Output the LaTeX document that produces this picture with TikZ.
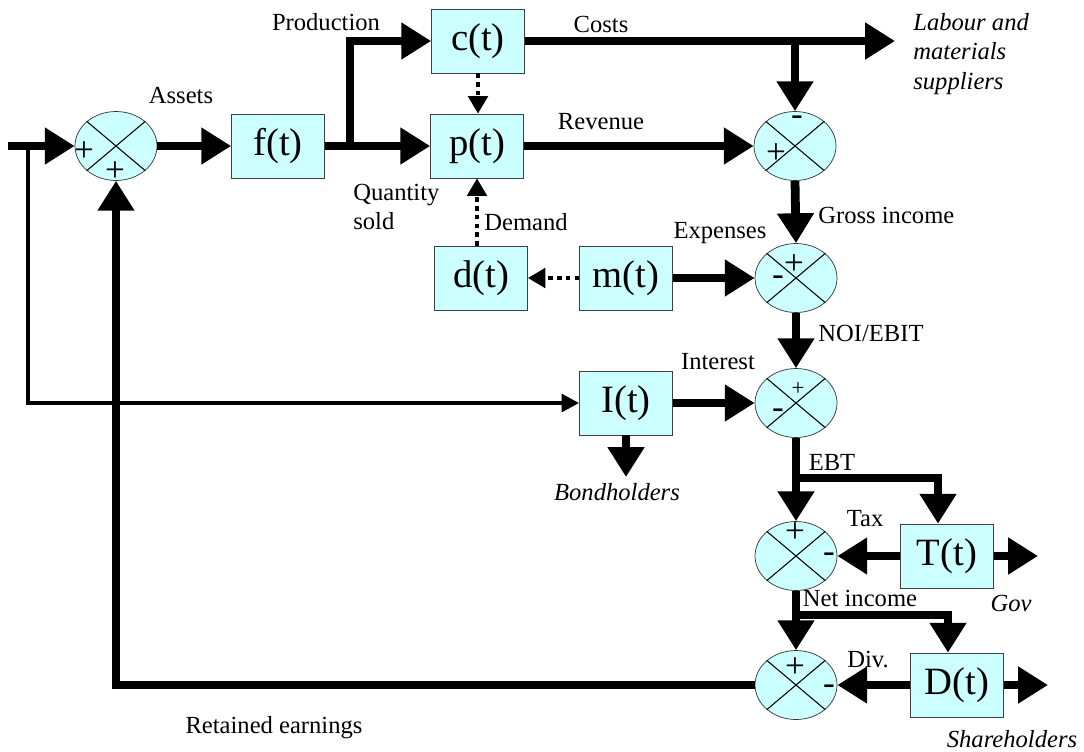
\documentclass[tikz,border=0pt]{standalone}
\usepackage{fontspec}
\setmainfont{Liberation Serif}
\usetikzlibrary{arrows.meta,shapes.geometric}
\definecolor{boxcyan}{RGB}{204,255,255}

\begin{document}
\begin{tikzpicture}[x=0.02cm,y=-0.02cm,
	blk/.style={draw=black!75,fill=boxcyan,minimum width=1.86cm,minimum height=1.28cm,inner sep=0pt,font=\fontsize{22}{24}\selectfont},
	summer/.style={ellipse,draw=black!80,fill=boxcyan,minimum width=1.64cm,minimum height=1.38cm,inner sep=0pt},
	sgn/.style={inner sep=0pt,font=\fontsize{20}{20}\selectfont},
	lbl/.style={inner sep=0pt,font=\fontsize{14}{17}\selectfont},
	who/.style={inner sep=0pt,font=\itshape\fontsize{14}{17}\selectfont},
	flow/.style={line width=5pt,-{Triangle[length=17pt,width=20pt]}},
	feed/.style={line width=2.4pt,-{Triangle[length=10pt,width=10pt]}},
	link/.style={line width=2.4pt,dash pattern=on 2.6pt off 2.4pt,-{Triangle[length=10pt,width=11pt]}}]
	
	\useasboundingbox (0,0) rectangle (1084,751);
	
	% summing junctions and blocks
	\node[summer] (s1) at (116,146) {};
	\node[blk] (f) at (278,146) {f(t)};
	\node[blk] (c) at (478,41) {c(t)};
	\node[blk] (p) at (477,146) {p(t)};
	\node[summer] (s2) at (795,146) {};
	\node[blk] (d) at (481,278) {d(t)};
	\node[blk] (m) at (626,278) {m(t)};
	\node[summer] (s3) at (796,278) {};
	\node[blk] (I) at (626,403) {I(t)};
	\node[summer] (s4) at (796,403) {};
	\node[summer] (s5) at (796,556) {};
	\node[blk] (T) at (947,556) {T(t)};
	\node[summer] (s6) at (796,685) {};
	\node[blk] (D) at (957,685) {D(t)};
	
	\foreach \s in {s1,s2,s3,s4,s5,s6}
		\draw[line width=0.6pt] (\s.north west) -- (\s.south east) (\s.north east) -- (\s.south west);
	
	% signs
	\node[sgn] (s1a) at (84,152) {+};
	\node[sgn] (s1b) at (115,172) {+};
	\node[sgn] (s2a) at (797,121) {-};
	\node[sgn] (s2b) at (776,154) {+};
	\node[sgn] (s3a) at (794,265) {+};
	\node[sgn] (s3b) at (778,281) {-};
	\node[sgn,font=\fontsize{13}{13}\selectfont] (s4a) at (798,389) {+};
	\node[sgn] (s4b) at (778,414) {-};
	\node[sgn] (s5a) at (795,533) {+};
	\node[sgn] (s5b) at (829,558) {-};
	\node[sgn] (s6a) at (795,668) {+};
	\node[sgn] (s6b) at (829,690) {-};
	
	% free ends
	\coordinate (src) at (8,146);
	\coordinate (tap) at (28,146);
	\coordinate (fork) at (350,146);
	\coordinate (lab) at (895,41);
	\coordinate (cfork) at (s2.north |- c.east);
	\coordinate (bond) at (626,477);
	\coordinate (ebt) at (796,478);
	\coordinate (gov) at (1038,556);
	\coordinate (net) at (796,615);
	\coordinate (share) at (1048,685);
	
	% connectors
	\draw[feed] (tap) |- (I.west);
	\draw[flow] (src) -- (s1.west);
	\draw[flow] (s1.east) -- (f.west);
	\draw[flow] (f.east) -- (p.west);
	\draw[flow] (fork) |- (c.west);
	\draw[link] (c.south) -- (c.south |- p.north);
	\draw[flow] (c.east) -- (lab);
	\draw[flow] (cfork) -- (s2.north);
	\draw[flow] (p.east) -- (s2.west);
	\draw[flow] (s2.south) -- (s3.north);
	\draw[link] (p.south |- d.north) -- (p.south);
	\draw[link] (m.west) -- (d.east);
	\draw[flow] (m.east) -- (s3.west);
	\draw[flow] (s3.south) -- (s4.north);
	\draw[flow] (I.east) -- (s4.west);
	\draw[flow] (I.south) -- (bond);
	\draw[flow] (s4.south) -- (s5.north);
	\draw[flow] (ebt) -| ([xshift=-0.18cm]T.north);
	\draw[flow] (T.west) -- (s5.east);
	\draw[flow] (T.east) -- (gov);
	\draw[flow] (s5.south) -- (s6.north);
	\draw[flow] (net) -| ([xshift=-0.18cm]D.north);
	\draw[flow] (D.west) -- (s6.east);
	\draw[flow] (D.east) -- (share);
	\draw[flow] (s6.west) -| (s1.south);
	
	% labels
	\node[lbl] (assets) at (181,95) {Assets};
	\node[lbl] (prod) at (326,22) {Production};
	\node[lbl] (costs) at (601,24) {Costs};
	\node[who,align=left,anchor=west] (labour) at (913,54) {Labour and\\materials\\suppliers};
	\node[lbl] (rev) at (601,122) {Revenue};
	\node[lbl,align=left,anchor=west] (qty) at (353,207) {Quantity\\sold};
	\node[lbl,anchor=west] (dem) at (484,222) {Demand};
	\node[lbl] (exp) at (720,233) {Expenses};
	\node[lbl,anchor=west] (gross) at (818,215) {Gross income};
	\node[lbl,anchor=west] (noi) at (818,333) {NOI/EBIT};
	\node[lbl] (intr) at (718,362) {Interest};
	\node[who] (bondh) at (617,492) {Bondholders};
	\node[lbl] (ebtl) at (832,462) {EBT};
	\node[lbl] (tax) at (865,519) {Tax};
	\node[who] (govl) at (1011,603) {Gov};
	\node[lbl] (netl) at (860,598) {Net income};
	\node[lbl] (div) at (868,660) {Div.};
	\node[who] (shareh) at (1012,739) {Shareholders};
	\node[lbl] (ret) at (274,728) {Retained earnings};
	
\end{tikzpicture}
\end{document}
